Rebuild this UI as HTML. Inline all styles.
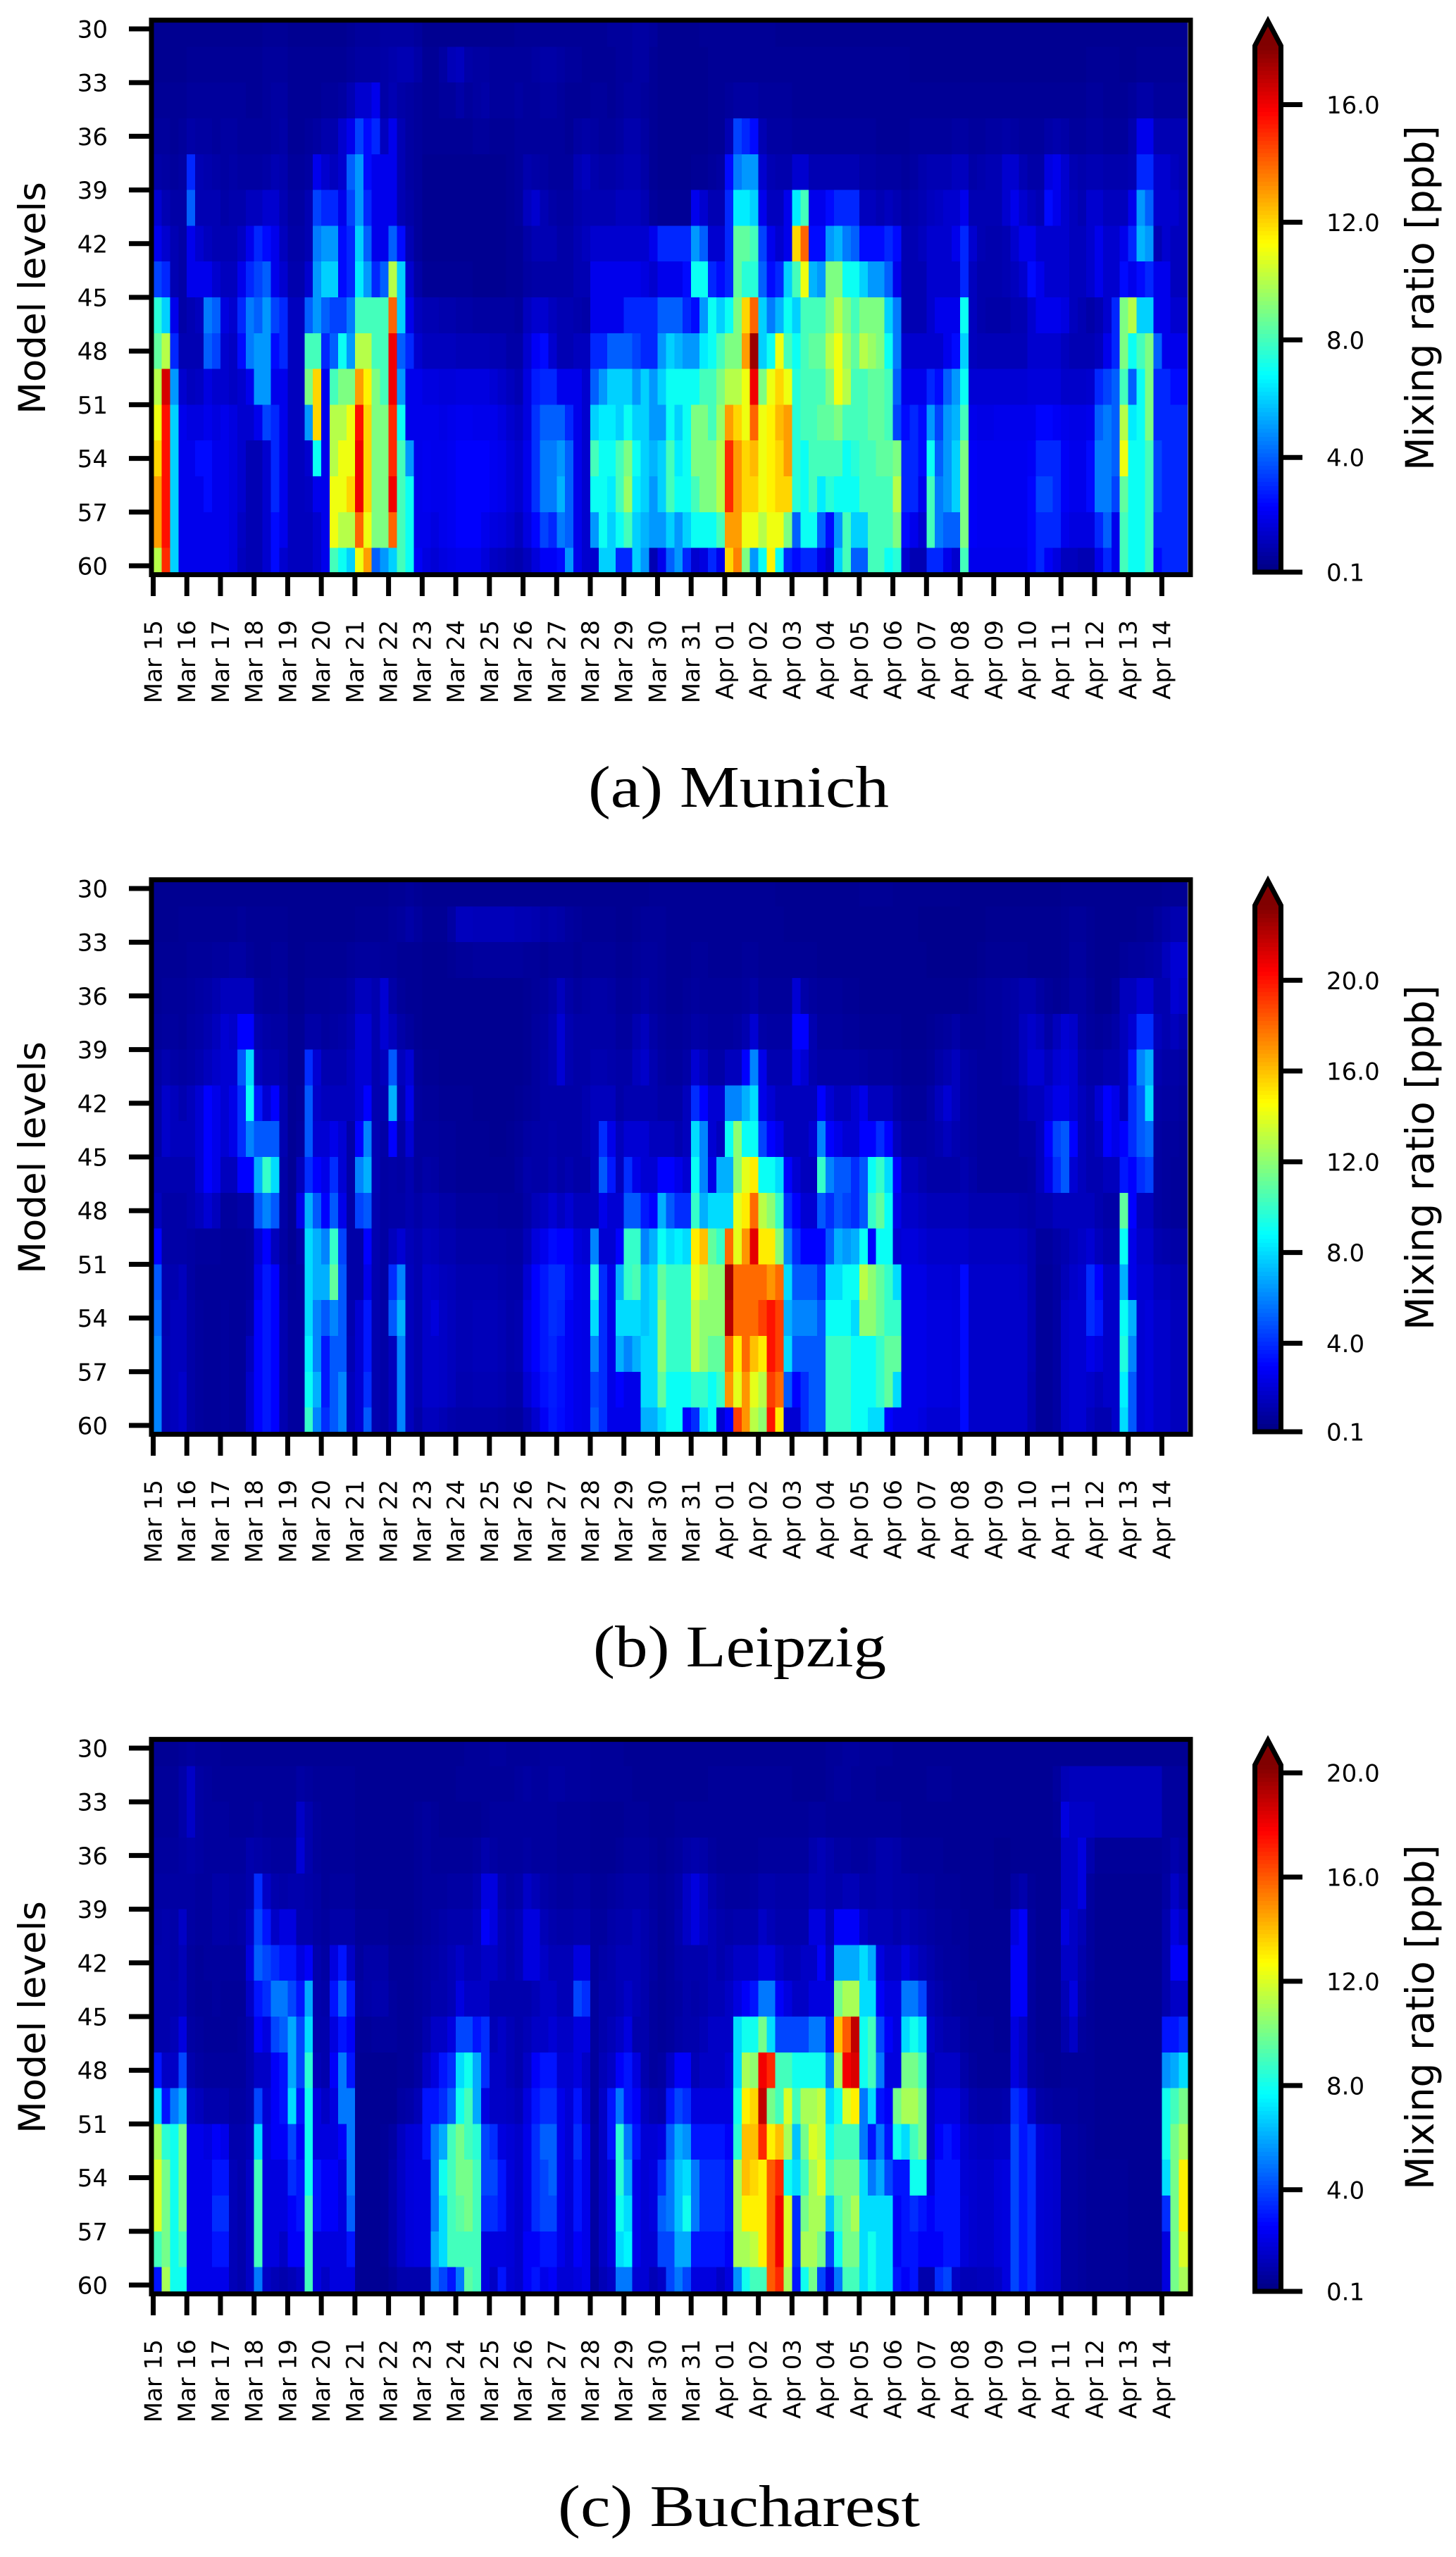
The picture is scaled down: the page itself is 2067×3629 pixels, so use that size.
<!DOCTYPE html>
<html lang="en">
<head>
<meta charset="utf-8">
<title>Mixing ratio by model level: Munich, Leipzig, Bucharest</title>
<style>
html,body{margin:0;padding:0;background:#fff}
svg{display:block}
text{font-family:"DejaVu Sans","Liberation Sans",sans-serif;fill:#000}
.cap{font-family:"Liberation Serif",serif}
</style>
</head>
<body>
<svg id="chart" xmlns="http://www.w3.org/2000/svg" width="2067" height="3629" viewBox="0 0 2067 3629"></svg>
<script>
const levelTicks = [30,33,36,39,42,45,48,51,54,57,60];
const rowLevels = [30,32,34,36,38,40,42,44,46,48,50,52,54,56,58,60];
const dayLabels = ["Mar 15","Mar 16","Mar 17","Mar 18","Mar 19","Mar 20","Mar 21","Mar 22","Mar 23","Mar 24","Mar 25","Mar 26","Mar 27","Mar 28","Mar 29","Mar 30","Mar 31","Apr 01","Apr 02","Apr 03","Apr 04","Apr 05","Apr 06","Apr 07","Apr 08","Apr 09","Apr 10","Apr 11","Apr 12","Apr 13","Apr 14"];
const munichTicks = [0.1,4,8,12,16];
const leipzigTicks = [0.1,4,8,12,16,20];
const bucharestTicks = [0.1,4,8,12,16,20];
const munichMax = 18;
const leipzigMax = 23.3;
const bucharestMax = 20.3;
// each inner array: one 6-hourly column, values in ppb from level 30 (top) to level 60 (bottom)
const munichValues = [
[.4,.4,.5,.6,.8,1.5,2,3.5,7.5,8.5,10,11,12,13,13,10],
[.4,.4,.5,.6,.7,1,1.5,3,6,10,16.5,15.5,15.5,15.5,15.5,15],
[.4,.4,.5,.5,.6,.8,1,1,2,3,5,6,6,6,6,6],
[.4,.4,.5,.6,.7,.8,.8,.8,.8,1,1.5,2,2,2,2,2],
[.4,.5,.6,.8,3,4,2,2,1,1,1.2,1.8,2,2,2,2],
[.4,.5,.6,.7,1,1,1.5,2,1.2,1,1.3,1.8,2.5,2,2,2],
[.4,.5,.6,.7,.9,1,1.2,2,4.5,4,1.8,2,2.5,2.5,2,2],
[.4,.5,.6,.6,.8,1,1,1.5,4,3.5,1.5,1.8,2,2,2,2],
[.4,.5,.6,.7,.7,.8,1,1.2,1.8,1.5,1.5,2,2,2,2,2],
[.4,.5,.6,.7,.8,.9,1,1.2,1.5,1.3,1.3,1.8,1.8,1.8,1.8,1.8],
[.4,.5,.6,.6,.7,.9,1.3,2,3,2.5,1.5,1.5,1.5,1.5,1.3,1.2],
[.4,.5,.5,.6,.7,1.2,2,3,4.5,4.5,2,1.5,1,1,1,1],
[.4,.5,.5,.6,.7,1.2,3,3.5,4,5,5,2,1,1,1,1],
[.5,.6,.6,.6,.8,1.5,2.5,4,5,5,5,3.5,1.5,1.5,1.5,1.5],
[.5,.6,.7,.7,1,1.5,2,2,3.5,2.5,2,3,3,3,2.5,2.5],
[.5,.6,.7,.8,.9,1,1.2,1.5,3,3,2,2,2,2,2,1.5],
[.4,.5,.5,.5,.6,.7,.8,.9,1.2,1.2,1.2,1.2,1.2,1.2,1.2,1.2],
[.4,.5,.5,.5,.6,.7,.8,.9,1.2,1.2,1.2,1.2,1.2,1.2,1.2,1.2],
[.4,.5,.5,.6,.7,1,1,1.5,4,8,9,5,1.5,1.3,1.2,1.2],
[.4,.5,.5,.7,2,3.5,4.5,5,5,8,12,12,7,2,1.5,1.5],
[.4,.5,.6,.9,1.5,3,5,6,4,3,2,2,2,2,2,2],
[.4,.5,.6,.9,1.2,3,5,6,3.5,4,8,10,10,11,11,8],
[.4,.5,.7,1.5,1.5,2,2.5,2.5,3.5,7,9,10,11,11,10,7],
[.5,.6,1,2,4,3.5,3,3,4.5,5,9,11,11,12,10,6],
[.6,.7,1.5,3.5,5,5,6,6.5,8,10,13,15.5,16,16,14,11],
[.6,.7,1.5,2.5,2.5,3,4,5,8,10,11.5,12,12,12,11,13],
[.6,.7,2,3,2,2,2,3,8,8,9,9,9,9,9,4],
[.7,.8,.8,1.2,2,2,2,4,8,8,8,9,9,9,9,5],
[.7,.9,1,2,2,2,4,10,14,16,16,15,15,16,14,6],
[.7,1,.8,1,1,1,2.5,6,6,4,5,7,8,8,8,8],
[.7,1,.7,.7,.7,.8,1,1.5,2,3,2,2,5,7,7,7],
[.6,.8,.6,.6,.6,.6,.6,.8,1.2,1.5,2,2,2,2,2,2.2],
[.4,.5,.5,.5,.4,.4,.4,.5,1,1.2,1.8,2,2.1,2.1,2,1.8],
[.4,.5,.5,.5,.4,.4,.4,.5,1,1.2,1.8,2,2,2,1.8,1.6],
[.4,.7,.6,.5,.4,.4,.4,.5,.9,1.2,1.7,1.9,2,2,2,1.8],
[.4,1.1,.6,.5,.4,.4,.4,.5,.9,1.2,1.7,2,2.1,2.1,2.1,1.9],
[.4,1.2,.8,.5,.4,.4,.4,.5,.8,1.1,1.8,2.1,2.3,2.3,2.3,2],
[.4,.8,.6,.5,.4,.4,.4,.5,.8,1.1,1.8,2.1,2.3,2.3,2.3,2],
[.4,.7,.7,.6,.4,.4,.4,.4,.7,1.1,1.8,2,2.3,2.3,2.3,2],
[.4,.7,.8,.6,.4,.4,.4,.4,.7,1.1,1.8,2,2.3,2.3,2,1.7],
[.4,.6,.6,.5,.4,.4,.4,.4,.7,1,1.6,2,2.1,2.1,1.8,1.3],
[.4,.6,.6,.5,.4,.4,.4,.4,.7,1,1.4,1.8,2,2,1.7,1.2],
[.4,.6,.6,.5,.5,.5,.5,.5,.7,.8,1.2,1.5,1.7,1.7,1.5,1],
[.5,.6,.7,.6,.6,.6,.5,.5,.6,.8,1,1.3,1.5,1.5,1.2,.9],
[.5,.6,.6,.6,.9,1.2,.8,.7,1.2,1.5,1.8,1.8,2,2,1.8,1.2],
[.5,.7,.6,.6,.8,1.5,1,.8,1.5,2.2,2.8,3.2,3.2,3.2,2.4,1.7],
[.5,.8,.7,.6,.7,1,1,.8,1.5,2.5,3,4,4.5,4.5,3.5,2.2],
[.5,.8,.7,.6,.6,.8,1,.8,1.2,1.5,3,4,4.5,4.5,3,2.2],
[.5,.7,.6,.6,.6,.7,.8,.8,1,1,2,4,5,5.5,4.5,2.5],
[.5,.6,.5,.5,.6,.7,.8,.8,1,1,2,3,4,4,4,5],
[.5,.6,.5,.7,1,.9,1,1,.9,1.2,2,2,2,2,2,2],
[.5,.5,.5,.8,1.2,1,1.2,1,.8,1.2,1.5,1.5,1.5,1.5,1.5,1.5],
[.5,.5,.6,.7,.9,1,1.5,2,2,3,4,6,8,7,5,1.5],
[.5,.5,.6,.6,.8,1,1.5,2,2,3,5,6.5,7,7,7,6],
[.6,.5,.5,.6,.8,1,1.5,2,2,4,6,6.5,7,6.5,6,6],
[.6,.6,.6,.7,.9,1.2,1.5,2,2,4,6,6,8,8,7,3],
[.6,.6,.7,.9,1,1.2,1.5,2,3,4,6,7,9,9.5,8,3],
[.7,.7,.7,.9,1,1.2,1.5,2,3,3.5,5,6,7,6.5,6,6],
[.7,.7,.6,.7,.8,1,1.5,1.8,3,3,6,6,6,6,5.5,5],
[.6,.5,.5,.5,.5,.6,2,1.5,3,3,5,5,5.5,5,5,1],
[.4,.4,.4,.4,.4,.5,3,2,4,5,6,5,6,6,5,2],
[.4,.4,.4,.4,.4,.5,3,2,4,6,7,7,8,8,6,4],
[.4,.4,.4,.4,.4,.5,3,2,4,5.5,7,6,6.5,7,5,5],
[.4,.4,.4,.4,.4,.5,3,2.5,3,5,7,7,7,7,6,3],
[.4,.4,.4,.4,.5,2,5,7,2.5,5,7,9,9,8,7,1.5],
[.5,.4,.4,.4,.5,1.5,4,7,5,6.5,8,9,9,9,7,1.8],
[.5,.5,.5,.5,.6,1,1.5,3,7,7,8,8,9,9,7,3],
[.5,.5,.5,.5,.7,1,1.5,2.5,6,8,9,9.5,10,10,8,2],
[.5,.5,.6,1,2.5,3,3,3,7,9,10,13,15,15,13,12],
[.5,.5,.7,3.5,4.5,6.5,8.5,8.5,9,9,10,12,13,13,13,13.5],
[.5,.5,.7,3,5,6.5,8.5,7.5,12,13,11,11,12,12,11,9],
[.5,.5,.7,2.5,5,6,8,7.5,14,17.5,16,14,12.5,12,11,5],
[.5,.5,.6,1,1.5,2,3.5,4,6,6,9,11,11,11,10,7],
[.5,.5,.6,.7,1,1.2,2,2.5,4.5,7,11,11.5,11.5,11.5,11,11.5],
[.4,.5,.6,.7,.9,1.2,1.5,3,5.5,11,12,12.5,12,12,11,7],
[.4,.5,.6,.7,.9,2,2,6,7,8,11,13,13,12,9,3],
[.4,.5,.5,.6,1.5,6.5,12,8,6,7,7.5,7.5,7.5,7.5,4,2.5],
[.4,.5,.5,.6,1.5,8,14,11,8,8,8,8,7,7,7,3],
[.4,.5,.5,.6,1,2,2.5,5.5,8,8.5,8,8,8,8,7,3],
[.4,.5,.5,.6,1,2,2.5,5,8,8.5,8,8.5,8,6.5,4,2],
[.4,.5,.5,.6,1,2.5,5,9,9,10,9,8.5,8,7.5,2.5,1.5],
[.4,.5,.5,.6,1,3,5.5,9,10,11,11,9,8,7,5,6],
[.4,.5,.5,.6,1,3,4.5,7,9,9.5,10,8,7,7,8,8],
[.4,.5,.5,.6,1,3,4,7,8,8.5,8,8,7.5,7,6,4],
[.4,.5,.5,.6,.8,1.2,2.5,6,9,10,8,8,8,8,6,4],
[.4,.5,.5,.6,.8,1.2,2.5,5,9,9.5,8.5,8.5,8,8,8,8],
[.4,.5,.5,.5,.7,1,2.5,5,9,9,8.5,8.5,8.5,8,8,8],
[.4,.5,.5,.5,.7,1.2,3,4,6,7,8,8,8.5,8,8,7],
[.4,.5,.5,.5,.7,1,2.5,2,4.5,4.5,4,3.5,9,10,9,7.5],
[.4,.5,.5,.5,.6,.8,1,1,1,1.5,2,2.5,3,3,2.5,1.5],
[.4,.4,.5,.6,.7,.9,1,1,1,1.5,2,3,3,3,2,1],
[.4,.4,.5,.6,.9,1,1.2,1,1,1.5,2,2.5,2.5,2,1.5,1],
[.4,.4,.5,.6,1,1.2,1.5,1.5,1.5,1.5,3,5,7,8,8,3],
[.4,.4,.5,.6,1,1.3,1.5,1.5,2,1.5,2.5,3.5,4,4.5,4.5,3],
[.4,.4,.5,.6,1,1.5,1.5,1.5,2,2,4,5,5,5,4,2],
[.4,.4,.5,.7,1.2,1.5,2,1.5,2,2.5,5,5.5,6,6,4,1.5],
[.4,.4,.5,.7,1.2,2,3,3,7,6,7,8,9,9,9,8],
[.4,.4,.5,.6,.8,1,1.5,1.2,1.2,1.2,1.6,2,2.2,2.2,2.2,2],
[.4,.4,.5,.6,.9,1,1,.9,.9,1.1,1.6,1.9,2.1,2.1,2.1,2],
[.4,.4,.5,.7,1,1,.9,.9,.8,1.1,1.6,1.9,2.1,2.1,2.1,2],
[.4,.4,.5,.7,1,1,.9,.9,.8,1.1,1.6,2,2.1,2.1,2.1,2],
[.4,.4,.5,.8,1.5,1.5,1,1,.8,1.1,1.6,2,2.1,2.1,2.1,2],
[.4,.4,.5,.7,1.5,2,1.5,1.2,1,1.1,1.6,2,2.1,2.1,2.1,2],
[.4,.4,.5,.6,1,1.5,2,1.5,1,1.1,1.6,2,2.1,2.1,2.1,2],
[.4,.4,.5,.6,.8,1.2,2,2.5,1.5,1.5,1.7,2,2.2,2.4,2.4,2.4],
[.4,.4,.5,.6,.8,1,1.5,2,2,1.5,1.7,2.4,3,3.5,3,3],
[.4,.4,.5,.8,1.8,2.5,1.5,1.5,2,1.5,1.7,2.4,3,3.5,3,2.2],
[.4,.4,.5,.9,2,2,1.5,1.5,2,1.5,1.7,2.2,3,3,3,1.8],
[.4,.4,.5,.8,1.5,1.5,1.5,1.5,1.8,1.2,1.4,2,2.2,2.2,2,1.2],
[.4,.4,.5,.6,1,1.2,1.2,1.2,1.2,1,1.4,1.9,2,2,1.8,1.2],
[.4,.4,.5,.6,.9,1,1.2,1.2,1,1,1.4,1.9,2,2,1.8,1],
[.4,.5,.6,.7,1,1.5,1.5,1.5,.8,1,1.5,2,2.5,2.5,1.8,1],
[.4,.5,.6,.7,1,1.5,2,2,1,1.2,3,4,4.5,4.5,3,2],
[.4,.5,.5,.6,.9,1.2,1.5,1.5,1.5,2,3.5,4.5,4.5,4.5,4,3],
[.4,.5,.5,.6,.9,1.2,1.5,1.5,3,3,4,4,4,3.5,2,2],
[.4,.4,.5,.6,.9,1.2,2,2.5,9,9,8,10,11,8.5,8,8],
[.4,.4,.6,.9,1,2,3,2,10,7,4,6.5,7,7,7,7],
[.4,.5,.8,2,3,5,5.5,2.5,6,8,7,7,7,7,7,7],
[.4,.5,.8,2,3,4,5,3,6,9,9,9,8,8,8,8],
[.4,.5,.6,1,1.5,1.5,1,2,2,4,3,3,3.5,3.5,3,2.5],
[.4,.5,.6,1,1.5,1.5,1.5,2,2,2,3,3,3,3,3,3],
[.4,.5,.6,1,1.2,1.5,1.2,1.2,1.5,2,2.5,3,3,3,3,3],
[.4,.5,.6,1,1,1.2,1.2,1.2,1.5,2,2.5,3,3,3,3,3]
];
const leipzigValues = [
[.5,.5,.6,.6,.7,.9,1,1,1.2,1.5,3,5,5.5,6,6,6],
[.5,.5,.6,.7,.8,1.2,1.8,1.8,1.2,1,1,1.2,1.2,1.3,1.3,1.3],
[.5,.5,.6,.7,.8,1,1.5,1.5,1.2,1,1,1.2,1.5,1.5,1.5,1.5],
[.5,.6,.6,.7,.7,.9,1.2,1.5,1.2,1,1,1.5,1.5,1.5,1.8,1.8],
[.5,.6,.7,.8,.9,1,1.5,1.5,1.2,1.2,.9,.9,1,1,1,1],
[.5,.6,.7,.9,1,1.2,2,2,2,1.5,.8,.7,.8,.8,.8,.8],
[.5,.6,.7,1,1.2,1.5,3,3,3,2,.8,.7,.7,.7,.7,.7],
[.5,.6,.8,1.2,1.5,1.8,2.5,2.5,2.5,1.5,.8,.7,.7,.7,.7,.7],
[.5,.6,.8,1.5,2,2,2,2,1.5,.8,.7,.7,.8,.8,.8,.8],
[.5,.6,.9,1.5,1.8,2,2.5,2.5,1.5,.8,.7,.7,.7,.7,.7,.7],
[.5,.7,.9,1.5,3,5,4,4,3,1,.7,.7,.7,.7,.7,.7],
[.5,.6,.7,1.5,3,8,9,6,3,1,.8,.8,1,1.5,1.8,1.8],
[.5,.6,.6,.8,1.2,1.5,3.5,5,7,5,2,2.5,3,3,3,3],
[.5,.6,.6,.7,1,1.2,2,5,10,6,3,3.5,3.5,3.5,3.5,3.5],
[.5,.6,.7,.7,.9,1.2,3,5,8,5,1.5,3,3,3,3,3],
[.5,.6,.7,.8,.9,1,1.2,1.2,1,1,.9,1,1.2,1.2,1.2,1.2],
[.5,.5,.5,.5,.6,.6,.6,.6,.6,.6,.6,.7,.8,.8,.8,.8],
[.5,.5,.5,.5,.6,.6,.7,.8,1.5,2.5,1,.8,.8,.8,.8,.8],
[.5,.5,.6,.7,1,4,5,5,4,7,8,8,8,8.5,9,10],
[.5,.5,.6,.7,1,2,1.8,2,3,5,7,7,6,6,7,6],
[.5,.5,.6,.7,.8,1.2,1.5,2,2.5,3,6,7,5,3.5,3.5,4],
[.5,.5,.6,.8,.9,1.2,1.5,2.5,4,5,10,11,6,5,5,5],
[.5,.5,.6,.8,1,1.2,1.5,2,2,2.5,4.5,5,5,5,6,6],
[.5,.5,.7,1,1.2,1.5,1.5,1,1,1,1,1,1.2,1.3,1.5,1.5],
[.5,.6,.8,1.5,2,2,2,3,6,4.5,1,1,2,2,2,2],
[.5,.6,.8,1.5,2,2,3,6,7,5,3,2.5,3.5,3.5,4,5],
[.5,.6,.8,1.2,1.2,1.2,1.2,1.3,1.3,1.2,1.2,1.2,1.2,1.2,1.2,1.2],
[.5,.6,.7,2,2,1.5,1.2,1,.9,.9,.9,.9,1,1,1,1],
[.6,.7,.7,1,1.5,5,7,3,1,1,1.5,4,5,1.5,1.5,1.5],
[.6,.8,.6,.7,1,1.5,1.2,1,.9,1,2,6,7,6,6,6],
[.7,1,.6,.6,.8,2,2.5,2,1.2,1.2,1.4,1.5,1.5,1.5,1.5,1.5],
[.6,.8,.6,.6,.6,.7,.8,.8,.8,1,1.2,1.2,1.2,1.2,1.2,1],
[.5,.6,.5,.5,.5,.6,.7,.8,1,1.2,1.5,1.8,1.8,1.8,1.8,1.5],
[.5,.6,.5,.5,.5,.6,.7,.8,.9,1.2,1.4,1.7,2.2,1.8,1.8,1.5],
[.5,.6,.5,.5,.5,.5,.6,.7,.7,1,1.2,1.5,1.7,1.7,1.7,1.3],
[.5,.9,.6,.5,.5,.5,.6,.7,.7,1,1.2,1.4,1.5,1.5,1.5,1.1],
[.5,1.5,.7,.5,.5,.5,.6,.6,.6,.8,1,1.2,1.3,1.3,1.2,1],
[.5,1.5,.7,.5,.5,.5,.6,.6,.6,.8,1,1.2,1.3,1.3,1.2,1],
[.5,1.4,.8,.5,.5,.5,.5,.6,.6,.8,1,1.2,1.4,1.4,1.3,1],
[.5,1.4,.8,.5,.5,.5,.5,.6,.6,.8,1,1.2,1.4,1.4,1.3,1],
[.5,1.4,.8,.5,.5,.5,.5,.5,.6,.8,1,1.2,1.4,1.4,1.3,1],
[.5,1.4,.8,.5,.5,.5,.5,.5,.6,.7,1,1.1,1.3,1.3,1.2,.9],
[.5,1.4,.8,.5,.5,.5,.5,.6,.6,.7,.9,1,1.1,1.1,1,.8],
[.5,1.3,.8,.5,.5,.5,.6,.7,.8,.7,.9,1,1.2,1.2,1,.8],
[.5,1.3,.7,.6,.6,.6,.7,.9,1.1,1,1.4,2,2.4,2.4,2,1.3],
[.5,1.2,.7,.7,.8,.8,.8,1,1,1.4,2.2,3,3,3,2.6,1.9],
[.5,1,.6,.8,.9,1,1,1,1,1.6,2.6,3.5,3.5,3.5,3.3,2.8],
[.5,1.1,.7,1,1.2,1.2,1,1.1,1.2,2,3.2,4,4,3.8,3.6,3.5],
[.5,1,.7,1.5,2,2,1,1,1,1.6,3,4,3.8,3.3,3.3,3.2],
[.5,.8,.7,1,1.2,1.2,1,1,1.2,2,3,3.2,2.8,2.8,2.8,2.8],
[.5,.7,.6,.8,1,1,1,1,1,1.5,2.2,2.5,2.5,2.5,2.5,2.5],
[.5,.6,.7,.9,1,1,1.2,1.2,1,1.5,2,2.4,2.4,2.4,2.4,2.4],
[.5,.6,.7,1,1,1.2,1.5,1.5,1.5,1.5,6,9.5,8,6,4.5,5],
[.5,.6,.7,1,1,1.2,1.5,4,5,2.5,2,4,4,4,4,4],
[.5,.6,.7,.9,1,1.1,1.5,2.5,3.5,2,2,2.5,2.5,2.5,2.5,2.5],
[.5,.5,.6,.7,.8,1,1,1.5,1.5,2,3,7,8,7,3,2.5],
[.5,.5,.6,.7,.8,1,1.2,2,4,5,10,10,8,6,2.5,2.5],
[.5,.6,.7,.8,1.2,1.5,1.2,2,2.5,5,10,10.5,8,7,2.5,2.5],
[.5,.7,.8,1,1.5,1.8,1.2,2,2,3.5,6,7.5,7.5,8,8,7],
[.6,.7,.8,.8,1,1.2,1.2,1.5,2,3,7,8,8,8,8,7],
[.6,.7,.7,.7,.8,.9,1,1.5,3,7,9,11,12,12,11,8],
[.6,.6,.6,.6,.7,.8,1,1.5,3,5,8,10,10,10,9,9],
[.6,.6,.6,.6,.7,.8,1,1.2,2.5,4,8.5,10,10,10,9,9],
[.6,.6,.6,.7,.8,1,1.5,1.5,2,4,8,10,10,10,9,3],
[.6,.6,.7,.8,1,2,4,8,9,10,15,14,13,13,10,4],
[.6,.6,.7,.7,.9,1.5,3,6,6,7,16,13,12,12,10,8],
[.6,.6,.6,.7,.8,1,2,2,2.5,8,11,12,12,11,9,9],
[.6,.6,.6,.7,.8,1,2,1.5,7,8,10,12,12,11,10,2],
[.6,.6,.6,.7,.8,1.5,6,9,7,8,18,22.5,22,18,17,3],
[.6,.6,.6,.7,.9,1.5,6,12,12,14,14,18,18,15,14,19],
[.6,.6,.7,.8,1.2,3,7,9,14,15,17,18,18,18,17,17],
[.6,.6,.7,1,2,6,8,9,15,18,21,18,18,16,14,13],
[.6,.6,.6,.7,1,2.5,2.5,4.5,9,13,15,18,19,15,13,12],
[.6,.6,.6,.7,.9,1.2,2,3,9,12,15,17,20,20,19,20],
[.5,.6,.6,.7,.9,1.2,1.5,2.5,8,10,12,18,19,19,18,15],
[.5,.5,.6,.7,.9,1.2,1.5,1.5,3,4,6,8,7,8,5,2],
[.5,.5,.6,2,3,2.5,1.5,1.5,2,3,4,5,6,5,3,2],
[.5,.5,.6,1,3,2,1.5,1.5,1.5,2,3,5,6,5,4,4],
[.5,.5,.6,.8,1.2,1.2,1.5,2,1.5,2,3,5,6,5,5,5],
[.5,.5,.5,.7,.8,1,3,6,10,5,3,4,5,5,5,5],
[.5,.5,.5,.7,.8,1,2,3,6,4,5,8,9,10,10,10],
[.5,.5,.5,.7,.8,1,1.5,2.5,5,5,7,8,9,10,10,10],
[.5,.5,.5,.6,.7,1,1.5,2,5,4.5,6.5,9,9,10,10,10],
[.5,.5,.5,.6,.7,1,2,2,4,4,7,9,8,9,9,9],
[.6,.5,.5,.5,.6,.9,2.5,3,5,5,9,13,12,9,9,9],
[.6,.5,.5,.5,.6,.8,1.5,3,9,10,3,12,12,9,9,8],
[.6,.5,.5,.5,.6,.8,1.5,4,10,11,9,11,11,10,10,8],
[.6,.5,.5,.5,.6,.8,1.5,3,8,9,9,10,10,11,11,3],
[.5,.5,.5,.5,.6,.7,1,1.5,3,2.5,2,8,10,11,8,2.5],
[.5,.5,.5,.5,.5,.6,.8,1,1.5,1.8,2.2,2.5,2.5,2.5,2.5,2.5],
[.5,.5,.5,.5,.5,.6,.7,.9,1.5,1.8,2.2,2.4,2.5,2.5,2.5,2.5],
[.5,.4,.5,.5,.5,.6,.7,.9,1.2,1.6,2,2.4,2.5,2.5,2.5,2.3],
[.5,.4,.4,.5,.6,.7,1,1,1,1.4,1.8,2.1,2.3,2.3,2.3,2],
[.5,.4,.4,.5,.7,1,1.5,1.2,1,1.4,1.8,2.1,2.3,2.3,2.3,2],
[.5,.4,.4,.5,.8,1.2,2,1.5,1,1.4,1.8,2.1,2.3,2.3,2.3,2],
[.5,.4,.4,.5,1,1.5,1.5,1.2,1,1.4,1.8,2,2.2,2.2,2.2,2],
[.4,.4,.4,.5,.7,1,1,1,1.2,1.4,1.8,3.2,3.2,3.2,3.2,3.2],
[.4,.4,.4,.6,.7,.9,.9,.9,1,1.2,1.6,1.8,1.8,1.8,1.8,1.8],
[.4,.4,.5,.7,.7,.8,.8,.8,.8,1.2,1.6,1.8,1.8,1.8,1.8,1.8],
[.4,.5,.6,.8,.8,.8,.8,.8,.8,1.2,1.6,1.8,1.8,1.8,1.8,1.8],
[.4,.5,.6,.8,.8,.8,.8,.8,.8,1.2,1.6,1.8,1.8,1.8,1.8,1.8],
[.4,.5,.6,.9,.9,.9,.8,.8,.8,1.2,1.6,1.8,1.8,1.8,1.8,1.8],
[.4,.5,.6,1,1,1,.8,.8,.8,1.2,1.6,1.8,1.8,1.8,1.8,1.8],
[.4,.5,.6,1.2,1.5,1.5,1.2,1,.8,1.1,1.5,1.7,1.8,1.8,1.8,1.8],
[.4,.5,.5,1.2,1.8,2,1.5,1,.9,1,1.2,1.2,1.3,1.3,1.2,1.2],
[.4,.5,.5,.9,1.5,2,1.5,1.5,1.5,1.2,.8,.7,.7,.7,.7,.7],
[.4,.5,.5,.7,1,1.5,2,3,2.5,1.2,.8,.7,.7,.7,.7,.7],
[.4,.5,.5,.6,1.5,2,2.5,4.5,4,1.5,1,.9,.9,.9,.9,.9],
[.5,.6,.6,.7,2,2.2,2.5,5,5,1.5,1.2,1.4,1.8,1.8,1.8,1.8],
[.5,.7,.8,.9,1.8,2,2,3,2,1.5,1.5,1.8,2,2,2,2],
[.5,.7,.8,.9,1,1.2,1.5,1.5,1.5,1.5,1.7,2,2,2,2,2],
[.5,.6,.6,.7,.8,1,1.2,1.2,1.2,1.5,2,4,4,2.5,1.8,1.5],
[.5,.5,.5,.5,.7,1,2,1.5,1.2,1.2,1.5,3,3.5,2.2,1.5,1.2],
[.5,.5,.5,.5,.8,1.2,3,3,1.5,1,1.2,1.8,1.8,1.8,1.8,1.2],
[.5,.5,.5,.7,1,1.2,2.5,2.5,1.5,1,1.2,1.8,1.8,1.8,1.8,1.8],
[.5,.5,.7,1.5,1.5,1.5,1.5,3,3.5,11,9,7,9,9.5,8.5,8],
[.5,.5,.8,1.5,2,3.5,4,4,3,3,2.5,2.5,7,6,5,5],
[.5,.6,.8,2,4,6,5,5,4,1.5,1.8,2,2,2,2,2],
[.5,.6,.9,2,4,7,8,5.5,4.5,1.5,1.8,2,2.2,2.2,2.2,2.2],
[.5,.8,1,1.2,1.5,1.2,1,.9,.9,.9,1.2,1.5,1.8,1.8,1.8,1.8],
[.6,1,1.5,1.2,1.2,1,.9,.8,.8,.8,1.1,1.5,1.8,1.8,1.8,1.8],
[.6,1.2,2,2,1.5,1,.9,.8,.7,.7,1,1.3,1.5,1.5,1.5,1.5],
[.6,1.2,2,1.8,1.2,.9,.8,.7,.7,.7,1,1.3,1.5,1.5,1.5,1.5]
];
const bucharestValues = [
[.5,.6,.6,.7,.8,.9,1,1,1,3,7,11,12,12,9,3],
[.5,.6,.6,.7,.8,1,1,1,1,1.5,3,8.5,10,10,10,11],
[.5,.6,.6,.7,.8,.9,.9,1,1.2,1.5,5,8,8,8,8,8],
[.6,.9,.9,.8,.8,1.5,1.2,1.2,2,4,6,10,10,10,9,8],
[.7,1.5,1.5,.9,.8,.8,.7,.7,.8,1,1.5,2.2,2.2,2.2,2.2,2.2],
[.6,.8,.8,.8,.7,.7,.6,.6,.7,.8,1.3,2.2,2.2,2.2,2.2,2.2],
[.6,.7,.7,.7,.7,.7,.7,.6,.6,.7,1,2,2.2,2.2,2.2,2.2],
[.6,.6,.7,.7,.9,.9,.7,.7,.6,.7,1,2.5,3,3.5,3,2.2],
[.5,.6,.7,.7,.9,.9,.7,.6,.6,.7,1,2.2,3,3.5,3,2.2],
[.5,.6,.6,.7,.8,.8,.7,.6,.6,.7,.8,1,1.2,1.2,1.2,1.2],
[.5,.6,.6,.7,.8,.9,.7,.6,.7,.7,.8,1,1,1,1,1],
[.5,.6,.6,1,1,1.5,2,1.5,1,1,1,1.2,1.5,1.5,1.5,1.5],
[.5,.6,.7,.9,3.5,4,4.5,3,2.5,1.5,4,7,9,9,9,5],
[.5,.6,.6,.8,1.5,3,4,3.5,2,1.5,1.8,2,2,2,2,1.5],
[.5,.6,.6,.7,1,1.5,3.5,5,4,2.5,2.5,2.5,2,2,2,1.2],
[.5,.6,.6,.7,.9,2,3,5,4.5,3,3,2.5,2,2,1.5,1],
[.5,.6,.6,.7,1,2,3,4,6,6,7,4,3.5,2.5,2.5,1.2],
[.5,.8,1.5,1.8,1,1,2,3,4,4,3,2.5,3,3,2.5,1.5],
[.5,.7,1,1,.9,1,2.5,6,7,8.5,8,8,8,9,9,9],
[.5,.6,.7,.7,.8,.8,1,1,1,1.2,2,2,3,3,2,2],
[.5,.6,.6,.6,.6,.7,.8,.9,1,1,1.5,2,2.5,2.5,2,1.5],
[.5,.6,.6,.6,.7,.9,2,3,2,2.5,2,2,2.5,2.5,2,2],
[.5,.6,.6,.6,.7,.9,3,4.5,3,5,5,2.5,2,2,2,2],
[.5,.6,.6,.6,.7,.9,1.5,3,2.5,3,5,5,5,4.5,3,2],
[.5,.5,.5,.5,.5,.6,.7,.8,.6,.5,.5,.5,.5,.5,.5,.5],
[.5,.5,.5,.5,.5,.6,.9,.9,.6,.5,.5,.5,.5,.5,.5,.5],
[.5,.5,.5,.5,.5,.6,.9,1,.7,.5,.5,.5,.5,.5,.5,.5],
[.5,.5,.5,.5,.5,.6,.9,1,.7,.5,.5,.6,.6,.6,.6,.5],
[.5,.5,.5,.5,.5,.5,.6,.7,.7,.5,.5,.8,1,1,1,.7],
[.5,.5,.5,.5,.5,.5,.6,.6,.6,.6,.8,1.4,1.5,1.5,1.5,1],
[.5,.5,.5,.5,.5,.5,.6,.6,.6,.6,.9,1.8,1.9,1.9,1.9,1],
[.5,.5,.6,.6,.6,.6,.7,.7,.7,.8,1.2,1.9,2,2,2,1],
[.5,.5,.7,.7,.7,.7,.8,.8,1,1.5,3,3,2,2,2,1],
[.5,.5,.6,.6,.7,.8,.9,1,1.5,2,3,5,5,5,6,5],
[.5,.5,.5,.6,.7,.9,1,1,1.5,3,3.5,6,8,7,7,4],
[.5,.5,.5,.6,.8,1,1.2,1.2,2,3.5,4.5,9,9,9,9,3],
[.5,.6,.5,.6,.8,1,1.5,2,4,7,8,10,10,9.5,9,5],
[.6,.6,.5,.6,.8,1,1.2,1.5,4,8,9,9,10,10,9,9.5],
[.6,.6,.5,.7,1,1.2,1.2,1.5,3,6,6,8.5,9,9,9,9],
[.6,.6,.6,1,2,2.5,1.5,1.5,3.5,3.5,2,4,4,3.5,2,2],
[.7,.6,.7,.8,2,2,1.5,1,1.2,1.5,1.5,3.5,4,3.5,2,1.5],
[.7,.6,.7,.7,1,1.2,1.2,1,1.5,1.5,1.5,2,3,3,2,3],
[.6,.6,.7,.7,.8,1,1,1,1.2,1.2,1.4,1.8,1.9,1.9,1.9,1.8],
[.6,.7,.7,.7,.9,1.2,1.2,1,1,1,1.2,1.6,1.6,1.6,1.6,1.6],
[.6,.8,.7,.8,1.5,2,2,1,1.2,1.5,2,2.2,2.2,2.2,2.5,2.5],
[.6,.7,.7,.7,1.2,2,2,1.2,1.5,2.5,3,3.5,3.5,3.5,2.5,3],
[.7,.7,.7,.7,.9,1.2,1.5,1.5,1.5,3,3.5,4.5,4,4,3,2.2],
[.7,.8,.7,.7,.8,1,1.2,1.5,1.8,3,3.5,4.5,4.5,4,3,2.5],
[.7,.8,.6,.6,.7,.9,1.2,1.2,1.5,1.7,2.2,2.2,2.2,2.2,2.2,1.8],
[.7,.7,.6,.6,.7,.9,1.2,1.2,1.5,1.7,1.8,1.8,1.8,1.8,1.8,1.8],
[.7,.7,.6,.6,.8,1,2,4,2,2,3,3.5,3,3,2.5,2],
[.7,.7,.6,.6,.8,1,2,3.5,2,1.5,1.7,2.2,2.2,2.2,2.2,2.2],
[.6,.6,.5,.5,.6,.7,.7,.7,.7,.7,.7,.8,.8,.8,.8,.7],
[.6,.6,.5,.5,.6,.7,.9,1,1,1.2,1.5,1.5,1.5,1.5,1.5,1.2],
[.6,.6,.5,.5,.7,.9,1,1,1.2,1.5,3,3,2,2,2,1.5],
[.6,.6,.5,.6,.8,1,1.2,1.2,1.5,2.5,5,8.5,8.5,8,7,5],
[.5,.6,.6,.7,.9,1,1.2,1.5,2,3,3,5,6,7,7.5,5],
[.5,.5,.6,.7,.9,1.2,1.2,1.2,1,2,2.5,3,2.2,2.2,2.2,1.8],
[.5,.5,.6,.7,.9,1,1,1,1,1,1.4,1.8,1.8,1.8,1.8,1.8],
[.5,.5,.5,.6,.7,.8,.8,.7,.7,.7,1.1,1.8,2,2,1.8,1.2],
[.5,.5,.5,.5,.6,.6,.6,.6,.6,.8,1,2,3.5,4.5,4,1.5],
[.5,.5,.5,.6,.7,.7,.7,.7,.7,1.5,3,4.5,5,5,4,4],
[.5,.5,.6,.7,.9,1,.9,.8,.9,2.5,4,6,6.5,6.5,6,5],
[.5,.5,.6,.9,1.5,1.5,1,1,1,2.5,3.5,5.5,7,8,6,4],
[.5,.5,.6,1,2,2,1,.9,1,1.2,2,3,5,5,3,2],
[.5,.5,.6,.9,1.5,1.5,1,1,1.2,1.5,2,3,3.5,3.5,3,2],
[.5,.6,.6,.7,1,1.2,1.2,1.2,1.5,1.5,2,3,3.5,3.5,3,2],
[.5,.6,.6,.6,.8,1,1,1.2,1.5,1.5,2,3,3.5,3.5,3,1.5],
[.5,.6,.6,.6,.7,.9,1.2,1.5,1.5,1.8,2,2.5,3,3,2.5,2],
[.5,.6,.6,.6,.7,1,1.5,2,7,7,8,8.5,11,11,11,5.5],
[.5,.6,.6,.6,.7,1,1.5,2.5,8,11,13,14,14,13,11,8],
[.5,.6,.6,.6,.8,1,1.5,3,8,10.5,13.5,14,13.5,13,11.5,9],
[.5,.6,.6,.7,1,1.5,2,5,10,18,19,17,13,13,13,9],
[.5,.6,.6,.7,1,1.2,2,5,7,17,10,13,16,16,16,16],
[.5,.6,.6,.7,.9,1,1.5,2.5,4,9,9,14,17,18,18,17],
[.5,.6,.6,.7,.9,1,1.2,2,4,9,12,11,8,12,12,11],
[.5,.5,.6,.7,.9,1,1.2,1.5,4,8,9,6.5,7,3.5,3.5,3],
[.5,.5,.6,.7,.9,1,1.5,1.5,4,8,11,10,9,10,11,8],
[.5,.5,.7,1,1.2,2,1.5,2,5,8,11,12,11,11,11,10],
[.5,.5,.7,1.2,1.2,2,2.5,2,5,8,11.5,11.5,12,11,10,4],
[.6,.6,.6,1,1,1.2,1.5,2,3,5,7,8,9,6.5,4,2],
[.6,.7,.6,.8,1,2.5,6,10,14,11,8,9,10,9,8,5],
[.7,.7,.6,.8,1.2,2.5,6,11,16,18,12,9,10,10,10,9],
[.7,.6,.6,.7,1.2,2.5,6,11,19,18.5,13,9,10,11,10,9],
[.6,.6,.6,.7,.9,1.5,7,7,8,8,5,5,7,7,7,7],
[.6,.6,.6,.8,.9,1.2,6,7,9,9,7,3,5,7,8,8],
[.6,.5,.6,1,1,1.2,2,2.5,4,5,3,5,6,7,7,7],
[.6,.5,.6,1,1,1.2,1.5,2,2.5,2,2.5,3,4,7,7,7],
[.5,.5,.6,.9,.9,1,1.5,2,2,2,10,8,3,2.5,2.5,3],
[.5,.5,.5,.7,.9,1.2,2,5,7,10,11,7,3,3,3,2.5],
[.5,.5,.5,.6,.8,1,1.5,5,8,10,11,9,8,3.5,3,3],
[.5,.5,.5,.6,.7,.9,1.2,4,7,9,10,10,8,3,2.5,1],
[.5,.6,.5,.6,.7,.8,1,1.2,1.5,1.2,1.5,1.5,2,2.5,2.5,1],
[.5,.6,.5,.6,.6,.7,.8,1,1.2,1.5,2,2.5,3,3,2.5,3.5],
[.5,.6,.5,.5,.6,.7,.7,.8,1,1.5,2,3,3,3,3,4],
[.5,.5,.5,.5,.6,.6,.7,.7,1,1.5,2,2.5,3,3,3,1.5],
[.5,.5,.5,.5,.5,.6,.6,.6,.7,.9,1.4,1.7,1.8,1.9,1.9,1.2],
[.5,.5,.5,.5,.5,.5,.5,.6,.6,.7,1,1.5,1.7,1.7,1.7,1.2],
[.5,.5,.5,.5,.5,.5,.5,.5,.6,.6,.9,1.4,1.6,1.6,1.6,1.3],
[.5,.5,.5,.5,.5,.5,.5,.5,.6,.6,.9,1.4,1.6,1.6,1.6,1.3],
[.5,.5,.5,.4,.4,.5,.5,.5,.5,.6,.9,1.5,1.9,1.9,1.9,1.5],
[.5,.5,.5,.4,.4,.5,.5,.5,.5,.6,1,1.5,2,2,2,2],
[.5,.5,.5,.5,.8,2,2.5,2.5,2,2,3.5,4,4,4,4,4],
[.5,.5,.5,.5,1,2.5,2.5,2.5,1.5,1.5,3,3,3,3,3,3],
[.5,.5,.5,.5,.6,.7,.7,.7,.7,.7,1.5,3.5,3.5,3.5,3.5,3.5],
[.5,.5,.5,.5,.5,.5,.5,.5,.5,.6,.9,1.8,1.8,1.8,1.8,1.8],
[.5,.5,.5,.5,.5,.5,.5,.5,.5,.5,.8,1.6,1.7,1.7,1.7,1.7],
[.5,.7,.6,.5,.5,.5,.5,.5,.5,.5,.7,1.5,1.6,1.6,1.6,1.6],
[.5,1.2,2,1.5,1.5,2,1.5,1.2,1,.6,.7,.8,.8,.8,.8,.8],
[.5,1.3,1.5,1.5,1.5,1.5,1.5,2,1.5,.6,.7,.8,.8,.8,.8,.8],
[.5,1.3,1.5,2,2,1.2,1,.9,.7,.6,.6,.7,.7,.7,.7,.7],
[.5,1.3,1.5,1,.7,.7,.7,.6,.6,.6,.6,.6,.6,.6,.6,.6],
[.5,1.3,1.3,.6,.5,.5,.5,.5,.5,.5,.5,.5,.6,.6,.6,.6],
[.5,1.3,1.3,.6,.5,.5,.5,.5,.5,.5,.5,.5,.6,.6,.6,.6],
[.5,1.3,1.3,.6,.5,.5,.5,.5,.5,.5,.5,.5,.6,.6,.6,.6],
[.5,1.3,1.3,.6,.5,.5,.5,.5,.5,.5,.5,.5,.6,.6,.6,.6],
[.5,1.3,1.3,.6,.5,.5,.5,.5,.5,.5,.5,.5,.5,.5,.5,.5],
[.5,1.3,1.3,.6,.5,.5,.5,.5,.5,.5,.5,.5,.5,.5,.5,.5],
[.5,1.3,1.3,.6,.5,.5,.5,.5,.5,.5,.5,.5,.5,.5,.5,.5],
[.5,1.3,1.3,.6,.5,.5,.5,.5,.5,.5,.5,.5,.5,.5,.5,.5],
[.5,.7,.7,.7,.8,1,1,1,3,5.5,8,8,7,3.5,2,2],
[.5,.7,.7,1,1.5,2,2.5,1.5,3,6,9,10,10,10,10,10],
[.5,.7,.7,.8,1,1.5,2.5,1.5,3.5,7,10,11,13,13,12,11],
[.5,.7,.7,.8,1,1.5,2.5,1.5,3.5,7,10,11,13,13,12,11]
];

const svgNS = "http://www.w3.org/2000/svg";
const chart = document.getElementById("chart");
const firstDayX = 217.5;
const dayWidth = 47.73;
const colsPerDay = 4;
const level30Y = 41;
const levelHeight = 25.4;

function xScale(dayPosition) { return firstDayX + dayPosition * dayWidth; }
function yScale(level, offset) { return offset + level30Y + (level - 30) * levelHeight; }
function cbarY(value, vmax, offset) { return offset + 812 - (value - 0.1) / (vmax - 0.1) * 747; }
function clamp01(v) { return Math.max(0, Math.min(1, v)); }
function jet(t) {
  const r = clamp01(1.5 - Math.abs(4 * t - 3));
  const g = clamp01(1.5 - Math.abs(4 * t - 2));
  const b = clamp01(1.5 - Math.abs(4 * t - 1));
  return "rgb(" + Math.round(r * 255) + "," + Math.round(g * 255) + "," + Math.round(b * 255) + ")";
}
function node(tag, parent, attrs) {
  const el = document.createElementNS(svgNS, tag);
  for (const key in attrs) el.setAttribute(key, attrs[key]);
  parent.appendChild(el);
  return el;
}

function drawPanel(panelName, caption, captionX, captionWidth, values, vmax, cbarTicks, offset) {
  const group = node("g", chart, {});
  
  

  const clip = node("clipPath", group, { id: "clip-" + panelName });
  node("rect", clip, { x: 215, y: offset + 28.6, width: 1475, height: 787 });

  const heat = node("g", group, { "clip-path": "url(#clip-" + panelName + ")", "shape-rendering": "crispEdges" });
  
  
  values.forEach(function (column, c) {
    const x0 = c === 0 ? 212 : xScale(c / colsPerDay);
    const x1 = xScale((c + 1) / colsPerDay);
    column.forEach(function (value, r) {
      const y0 = yScale(rowLevels[r] - 1, offset);
      const y1 = yScale(rowLevels[r] + 1, offset);
      const cell = node("rect", heat, {
        x: x0.toFixed(1), y: y0.toFixed(1),
        width: (x1 - x0 + 0.6).toFixed(1), height: (y1 - y0 + 0.6).toFixed(1),
        fill: jet(clamp01((value - 0.1) / (vmax - 0.1)))
      });
      
      
    });
  });

  const frame = node("rect", group, { x: 215, y: offset + 28.6, width: 1475, height: 787, fill: "none", stroke: "#000", "stroke-width": 7 });
  
  

  levelTicks.forEach(function (level) {
    const y = yScale(level, offset);
    const tick = node("line", group, { x1: 183, x2: 214, y1: y, y2: y, stroke: "#000", "stroke-width": 7 });
    
    
    const label = node("text", group, { x: 153, y: y + 12.5, "text-anchor": "end", "font-size": 34 });
    label.textContent = String(level);
    
    
  });

  dayLabels.forEach(function (day, i) {
    const x = xScale(i);
    const tick = node("line", group, { x1: x, x2: x, y1: offset + 816, y2: offset + 846, stroke: "#000", "stroke-width": 7 });
    
    
    const label = node("text", group, { transform: "translate(" + (x + 12) + "," + (offset + 880) + ") rotate(-90)", "text-anchor": "end", "font-size": 34 });
    label.textContent = day;
    
    
  });

  const yTitle = node("text", group, { transform: "translate(64," + (offset + 423) + ") rotate(-90)", "text-anchor": "middle", "font-size": 53 });
  yTitle.textContent = "Model levels";
  
  

  const capText = node("text", group, { class: "cap", x: captionX, y: offset + 1145, "font-size": 84, textLength: captionWidth, lengthAdjust: "spacingAndGlyphs" });
  capText.textContent = caption;
  
  

  const cbar = node("g", group, {});
  
  
  const bands = node("g", cbar, { "shape-rendering": "crispEdges" });
  const steps = 128;
  for (let s = 0; s < steps; s++) {
    const v0 = 0.1 + (vmax - 0.1) * s / steps;
    const v1 = 0.1 + (vmax - 0.1) * (s + 1) / steps;
    const band = node("rect", bands, {
      x: 1781, width: 38,
      y: cbarY(v1, vmax, offset).toFixed(1),
      height: (cbarY(v0, vmax, offset) - cbarY(v1, vmax, offset) + 0.6).toFixed(1),
      fill: jet((s + 0.5) / steps)
    });
    
    
  }
  const arrowPts = "1781.5," + (offset + 65) + " 1800," + (offset + 30) + " 1818.5," + (offset + 65);
  const arrow = node("polygon", cbar, { points: arrowPts, fill: "rgb(128,0,0)" });
  
  
  const outlinePts = "1781.5," + (offset + 812) + " 1781.5," + (offset + 65) + " 1800," + (offset + 30) + " 1818.5," + (offset + 65) + " 1818.5," + (offset + 812);
  const outline = node("polygon", cbar, { points: outlinePts, fill: "none", stroke: "#000", "stroke-width": 7 });
  
  

  cbarTicks.forEach(function (value) {
    const y = cbarY(value, vmax, offset);
    const tick = node("line", cbar, { x1: 1822, x2: 1849, y1: y, y2: y, stroke: "#000", "stroke-width": 7 });
    
    
    const label = node("text", cbar, { x: 1883, y: y + 12.5, "font-size": 34 });
    label.textContent = value.toFixed(1);
    
    
  });

  const cbarTitle = node("text", cbar, { transform: "translate(2035," + (offset + 423) + ") rotate(-90)", "text-anchor": "middle", "font-size": 55 });
  cbarTitle.textContent = "Mixing ratio [ppb]";
  
  
}

drawPanel("munich", "(a) Munich", 835, 427, munichValues, munichMax, munichTicks, 0);
drawPanel("leipzig", "(b) Leipzig", 842, 416, leipzigValues, leipzigMax, leipzigTicks, 1220);
drawPanel("bucharest", "(c) Bucharest", 792, 514, bucharestValues, bucharestMax, bucharestTicks, 2440);
</script>
</body>
</html>
